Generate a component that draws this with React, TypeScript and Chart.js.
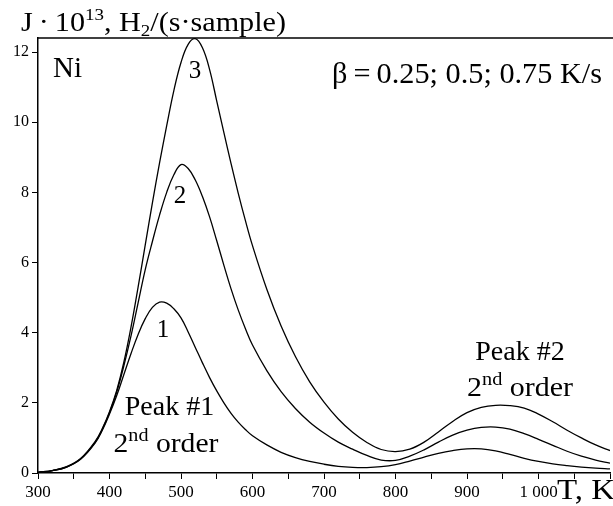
import React, { useEffect, useRef } from "react";
import { Chart, registerables } from "chart.js";
Chart.register(...registerables);

const temperatures = [300, 320, 340, 360, 380, 390, 400, 410, 420, 430, 440, 450, 460, 470, 480, 490, 500, 510, 520, 530, 540, 550, 560, 570, 580, 590, 600, 620, 640, 660, 680, 700, 720, 740, 760, 780, 800, 820, 840, 860, 880, 900, 920, 940, 960, 980, 1000, 1020, 1040, 1060, 1080, 1100];

const curve1 = [0.02, 0.07, 0.17, 0.40, 0.86, 1.22, 1.68, 2.2, 2.8, 3.4, 3.95, 4.4, 4.72, 4.87, 4.84, 4.68, 4.42, 4.02, 3.58, 3.14, 2.72, 2.34, 2.0, 1.70, 1.45, 1.24, 1.06, 0.80, 0.59, 0.44, 0.33, 0.25, 0.19, 0.16, 0.155, 0.18, 0.24, 0.34, 0.45, 0.56, 0.64, 0.69, 0.69, 0.63, 0.53, 0.42, 0.33, 0.26, 0.21, 0.17, 0.14, 0.12];

const curve2 = [0.02, 0.07, 0.17, 0.41, 0.88, 1.25, 1.72, 2.3, 3.05, 3.9, 4.85, 5.8, 6.6, 7.35, 8.0, 8.5, 8.79, 8.68, 8.35, 7.88, 7.3, 6.62, 5.92, 5.25, 4.65, 4.12, 3.65, 2.92, 2.32, 1.84, 1.45, 1.14, 0.88, 0.68, 0.50, 0.37, 0.36, 0.48, 0.66, 0.88, 1.08, 1.22, 1.30, 1.31, 1.25, 1.12, 0.96, 0.79, 0.62, 0.48, 0.37, 0.28];

const curve3 = [0.02, 0.07, 0.18, 0.42, 0.9, 1.27, 1.75, 2.35, 3.15, 4.15, 5.3, 6.5, 7.7, 8.84, 9.9, 10.9, 11.7, 12.22, 12.38, 12.12, 11.5, 10.6, 9.7, 8.82, 7.98, 7.2, 6.48, 5.24, 4.19, 3.32, 2.6, 2.02, 1.54, 1.16, 0.87, 0.67, 0.61, 0.68, 0.88, 1.17, 1.47, 1.72, 1.87, 1.93, 1.92, 1.85, 1.68, 1.46, 1.22, 1.0, 0.8, 0.64];

const xTicks = [300, 350, 400, 450, 500, 550, 600, 650, 700, 750, 800, 850, 900, 950, 1000, 1050, 1100];
const xTickLabels = ["300", "", "400", "", "500", "", "600", "", "700", "", "800", "", "900", "", "1 000", "", ""];
const yTicks = [0, 2, 4, 6, 8, 10, 12];
const yTickLabels = ["0", "2", "4", "6", "8", "10", "12"];

const FONT = "'Liberation Serif', 'Times New Roman', serif";

type Seg = { t: string; size: number; dy?: number };

function drawRich(ctx: CanvasRenderingContext2D, segs: Seg[], x: number, y: number, align: "left" | "center" | "right", targetWidth?: number) {
  ctx.save();
  ctx.textBaseline = "alphabetic";
  ctx.textAlign = "left";
  ctx.fillStyle = "#000";
  let total = 0;
  const widths = segs.map((s) => {
    ctx.font = `${s.size}px ${FONT}`;
    const w = ctx.measureText(s.t).width;
    total += w;
    return w;
  });
  const sx = targetWidth ? targetWidth / total : 1;
  const drawnW = total * sx;
  const startX = align === "left" ? x : align === "center" ? x - drawnW / 2 : x - drawnW;
  ctx.translate(startX, y);
  ctx.scale(sx, 1);
  let cx = 0;
  segs.forEach((s, i) => {
    ctx.font = `${s.size}px ${FONT}`;
    ctx.fillText(s.t, cx, s.dy || 0);
    cx += widths[i];
  });
  ctx.restore();
}

const annotations = {
  id: "annotations",
  afterDraw(chart: any) {
    const { ctx, chartArea } = chart;
    ctx.save();
    ctx.strokeStyle = "#000";
    ctx.lineWidth = 1.5;
    ctx.beginPath();
    ctx.moveTo(chartArea.left - 0.75, chartArea.top);
    ctx.lineTo(chart.width, chartArea.top);
    ctx.stroke();
    ctx.restore();

    drawRich(ctx, [
      { t: "J\u2009·\u200910", size: 27 },
      { t: "13", size: 17, dy: -11 },
      { t: ", H", size: 27 },
      { t: "2", size: 17, dy: 5 },
      { t: "/(s·sample)", size: 27 },
    ], 21, 31, "left", 265);

    drawRich(ctx, [{ t: "Ni", size: 29 }], 53, 77, "left");
    drawRich(ctx, [{ t: "β\u2009=\u20090.25; 0.5; 0.75 K/s", size: 29 }], 332, 83, "left", 270);

    drawRich(ctx, [{ t: "3", size: 25 }], 195, 78, "center");
    drawRich(ctx, [{ t: "2", size: 25 }], 180, 203, "center");
    drawRich(ctx, [{ t: "1", size: 25 }], 163, 337, "center");

    drawRich(ctx, [{ t: "Peak #1", size: 28 }], 169.5, 415, "center");
    drawRich(ctx, [
      { t: "2", size: 28 },
      { t: "nd", size: 19, dy: -11 },
      { t: " order", size: 28 },
    ], 166, 452, "center", 105);

    drawRich(ctx, [{ t: "Peak #2", size: 28 }], 520, 360, "center");
    drawRich(ctx, [
      { t: "2", size: 28 },
      { t: "nd", size: 19, dy: -11 },
      { t: " order", size: 28 },
    ], 520, 396, "center", 106);

    drawRich(ctx, [{ t: "T, K", size: 30 }], 557, 499, "left", 58);
  },
};

export default function App() {
  const ref = useRef<HTMLCanvasElement | null>(null);
  useEffect(() => {
    if (!ref.current) return;
    const mk = (vals: number[]) => temperatures.map((t, i) => ({ x: t, y: vals[i] }));
    const ds = (vals: number[]) => ({
      data: mk(vals),
      borderColor: "#000",
      borderWidth: 1.3,
      pointRadius: 0,
      fill: false,
      tension: 0.4,
    });
    const chart = new Chart(ref.current, {
      type: "line",
      data: { datasets: [ds(curve1), ds(curve2), ds(curve3)] },
      options: {
        animation: false,
        responsive: false,
        devicePixelRatio: 1,
        layout: { padding: { top: 38, left: 0, right: 0, bottom: 0 }, autoPadding: false },
        plugins: { legend: { display: false }, tooltip: { enabled: false }, title: { display: false } },
        scales: {
          x: {
            type: "linear",
            min: 300,
            max: 1100,
            afterBuildTicks: (scale: any) => {
              scale.ticks = xTicks.map((v) => ({ value: v }));
            },
            afterFit: (scale: any) => {
              scale.height = 33;
            },
            ticks: {
              autoSkip: false,
              maxRotation: 0,
              minRotation: 0,
              padding: 3,
              color: "#000",
              font: { family: FONT, size: 17 },
              callback: (v: any) => {
                const i = xTicks.indexOf(Number(v));
                return i >= 0 ? xTickLabels[i] : "";
              },
            },
            grid: { drawOnChartArea: false, drawTicks: true, tickLength: 6, color: "#000", lineWidth: 1 },
            border: { display: true, color: "#000", width: 1.5 },
          },
          y: {
            type: "linear",
            min: 0,
            max: 12.4,
            afterBuildTicks: (scale: any) => {
              scale.ticks = yTicks.map((v) => ({ value: v }));
            },
            afterFit: (scale: any) => {
              scale.width = 38;
            },
            ticks: {
              autoSkip: false,
              padding: 3,
              color: "#000",
              font: { family: FONT, size: 16 },
              callback: (v: any) => {
                const i = yTicks.indexOf(Number(v));
                return i >= 0 ? yTickLabels[i] : "";
              },
            },
            grid: { drawOnChartArea: false, drawTicks: true, tickLength: 6, color: "#000", lineWidth: 1 },
            border: { display: true, color: "#000", width: 1.5 },
          },
        },
      },
      plugins: [annotations],
    });
    return () => chart.destroy();
  }, []);
  return (
    <div style={{ position: "fixed", left: 0, top: 0, width: 613, height: 506, background: "#fff" }}>
      <canvas ref={ref} width={613} height={506} style={{ display: "block" }} />
    </div>
  );
}
